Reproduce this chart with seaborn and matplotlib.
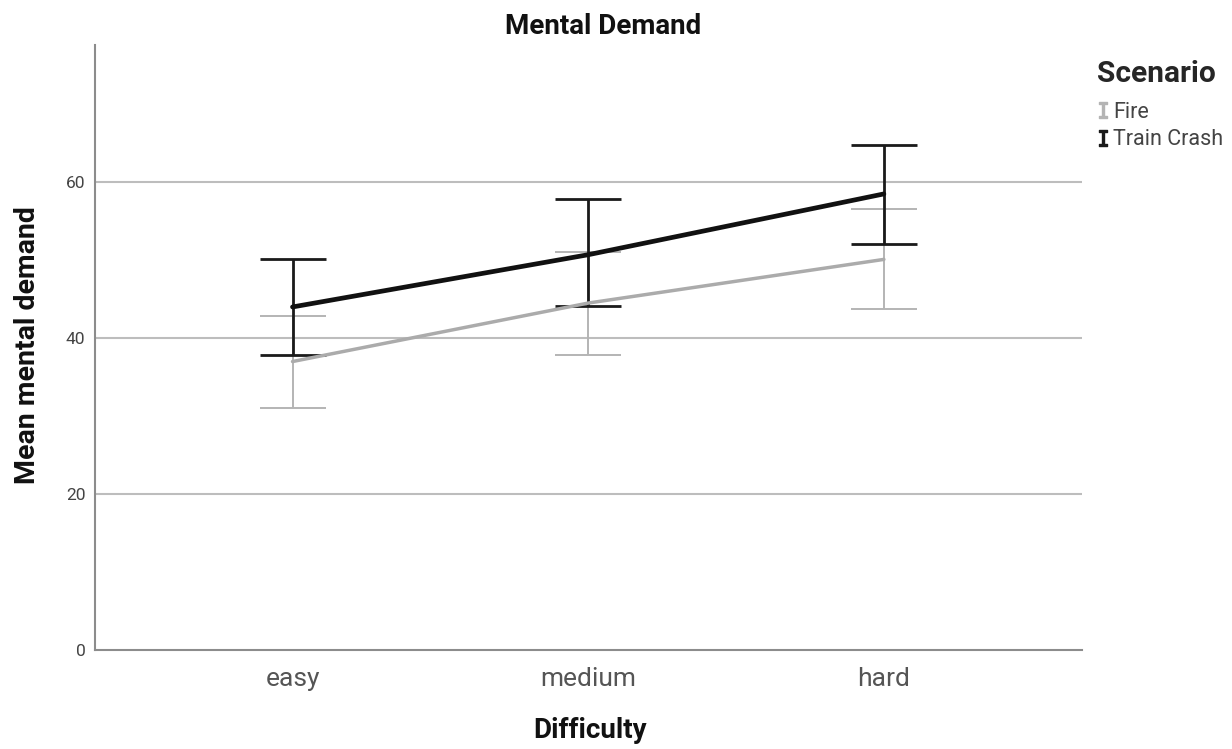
import matplotlib
matplotlib.use("Agg")
import matplotlib.pyplot as plt
import seaborn as sns
import pandas as pd
from matplotlib.lines import Line2D

difficulty = ["easy", "medium", "hard"]
scenarios = ["Fire", "Train Crash"]
fire_mean = [37.0, 44.5, 50.1]
fire_lo = [31.0, 37.9, 43.7]
fire_hi = [42.9, 51.0, 56.6]
train_mean = [44.0, 50.7, 58.5]
train_lo = [37.9, 44.1, 52.1]
train_hi = [50.1, 57.9, 64.8]

sns.set_style("white")
plt.rcParams['font.family'] = ['Roboto', 'DejaVu Sans']

rows = []
for s, m, lo, hi in [("Fire", fire_mean, fire_lo, fire_hi),
                     ("Train Crash", train_mean, train_lo, train_hi)]:
    for i, d in enumerate(difficulty):
        rows.append(dict(Scenario=s, Difficulty=d, x=i, mean=m[i], lo=lo[i], hi=hi[i]))
df = pd.DataFrame(rows)

fig = plt.figure(figsize=(12.32, 7.49), dpi=100)
ax = fig.add_axes([95/1232, 1-650/749, (1082-95)/1232, (650-45)/749])

palette = {"Fire": "#ababab", "Train Crash": "#111111"}
lw = {"Fire": 2.5, "Train Crash": 3.4}
elw = {"Fire": 1.4, "Train Crash": 2.0}
ecol = {"Fire": "#b4b4b4", "Train Crash": "#1a1a1a"}

for s in scenarios:
    sub = df[df.Scenario == s]
    ax.errorbar(sub.x, sub["mean"], yerr=[sub["mean"] - sub.lo, sub.hi - sub["mean"]],
                fmt="none", ecolor=ecol[s], elinewidth=elw[s], capsize=23.5,
                capthick=elw[s], zorder=3)
for s in scenarios:
    sub = df[df.Scenario == s]
    sns.lineplot(data=sub, x="x", y="mean", ax=ax, color=palette[s], linewidth=lw[s],
                 legend=False, zorder=4)

ax.set_xlim(-0.668, 2.67)
ax.set_ylim(0, 77.6)
ax.set_xticks(range(3))
ax.set_xticklabels(difficulty, fontsize=19, color="#555555")
ax.set_yticks([0, 20, 40, 60])
ax.set_yticklabels(["0", "20", "40", "60"], fontsize=12.5, color="#444444")
ax.tick_params(axis="both", length=0)
ax.tick_params(axis="x", pad=12)
ax.tick_params(axis="y", pad=7)
for y in [20, 40, 60]:
    ax.axhline(y, color="#bdbdbd", linewidth=1.5, zorder=1)
for sp in ["top", "right"]:
    ax.spines[sp].set_visible(False)
for sp in ["left", "bottom"]:
    ax.spines[sp].set_color("#8c8c8c")
    ax.spines[sp].set_linewidth(1.5)

ax.set_xlabel("")
ax.set_ylabel("")
fig.text(603/1232, 1-27/749, "Mental Demand", ha="center", va="center",
         fontsize=20, fontweight="bold", color="#111111")
fig.text(590/1232, 1-731/749, "Difficulty", ha="center", va="center",
         fontsize=20, fontweight="bold", color="#111111")
fig.text(28/1232, 1-345/749, "Mean mental demand", ha="center", va="center",
         rotation=90, fontsize=20.5, fontweight="bold", color="#111111")

handles = [Line2D([], [], color=ecol[s], marker="$\\mathtt{I}$", linestyle="none",
                  markersize=11) for s in scenarios]
leg = fig.legend(handles, scenarios, title="Scenario", loc="upper left",
                 bbox_to_anchor=(1088/1232, 1-51/749), frameon=False,
                 fontsize=15.5, handletextpad=0.15, handlelength=0.6,
                 labelspacing=0.32, labelcolor="#444444", borderaxespad=0)
leg.get_title().set_fontsize(21.5)
leg.get_title().set_fontweight("bold")
leg._legend_box.align = "left"
leg._legend_box.sep = 10

fig.savefig("out.png", dpi=100, facecolor="white")
